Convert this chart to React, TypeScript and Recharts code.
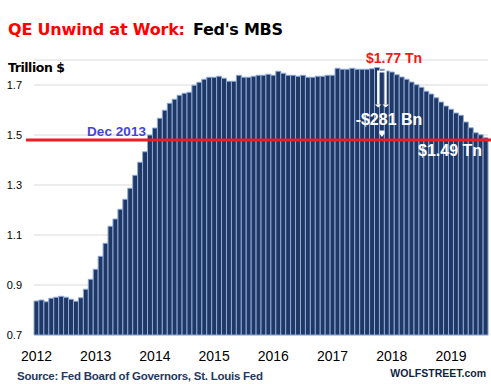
import React from "react";
import { BarChart, Bar, XAxis, YAxis, CartesianGrid, ReferenceLine, ReferenceDot } from "recharts";

// Fed's MBS holdings, trillion $, monthly Jan 2012 .. Aug 2019
const mbs2012 = [0.836, 0.840, 0.833, 0.847, 0.851, 0.855, 0.851, 0.843, 0.835, 0.849, 0.883, 0.923];
const mbs2013 = [0.963, 1.015, 1.067, 1.135, 1.164, 1.203, 1.243, 1.287, 1.339, 1.391, 1.433, 1.500];
const mbs2014 = [1.528, 1.567, 1.599, 1.627, 1.643, 1.659, 1.667, 1.671, 1.699, 1.711, 1.723, 1.731];
const mbs2015 = [1.731, 1.735, 1.727, 1.715, 1.715, 1.739, 1.731, 1.731, 1.735, 1.739, 1.739, 1.743];
const mbs2016 = [1.739, 1.755, 1.747, 1.739, 1.739, 1.735, 1.739, 1.731, 1.731, 1.735, 1.735, 1.739];
const mbs2017 = [1.739, 1.767, 1.763, 1.763, 1.767, 1.763, 1.763, 1.763, 1.765, 1.770, 1.763, 1.756];
const mbs2018 = [1.752, 1.741, 1.732, 1.723, 1.712, 1.701, 1.691, 1.675, 1.664, 1.649, 1.632, 1.616];
const mbs2019 = [1.603, 1.588, 1.579, 1.552, 1.529, 1.509, 1.501, 1.489];

const years = ["2012", "2013", "2014", "2015", "2016", "2017", "2018", "2019"];
const yTicks = [0.7, 0.9, 1.1, 1.3, 1.5, 1.7];
const dec2013Level = 1.48;
const peakMonth = "2017-11";

const series = [mbs2012, mbs2013, mbs2014, mbs2015, mbs2016, mbs2017, mbs2018, mbs2019];
const data: { month: string; value: number }[] = [];
series.forEach((vals, yi) => {
  vals.forEach((v, mi) => {
    data.push({ month: `${years[yi]}-${String(mi + 1).padStart(2, "0")}`, value: v });
  });
});
const yearTicks = years.map((y) => `${y}-01`);

const RedLine = (p: any) => (
  <line x1={p.x1 - 8} y1={p.y1} x2={p.x2 + 4} y2={p.y2} stroke="#ee1c24" strokeWidth={3} />
);

const Bracket = (p: any) => {
  const cx = p.cx;
  const cy = p.cy;
  const top = cy + 4;
  const bot = cy + 37;
  return (
    <g>
      <path
        d={`M${cx - 3.8},${bot} L${cx - 3.8},${top} L${cx + 3.8},${top} L${cx + 3.8},${bot}`}
        fill="none"
        stroke="#ffffff"
        strokeWidth={2}
      />
      <polygon points={`${cx - 7},${bot} ${cx - 0.6},${bot} ${cx - 3.8},${bot + 3}`} fill="#ffffff" />
      <polygon points={`${cx + 0.6},${bot} ${cx + 7},${bot} ${cx + 3.8},${bot + 3}`} fill="#ffffff" />
      <polygon points={`${cx - 2.5},${cy + 63} ${cx + 2.5},${cy + 63} ${cx + 2.5},${cy + 66} ${cx},${cy + 69.5} ${cx - 2.5},${cy + 66}`} fill="#ffffff" />
    </g>
  );
};

export default function App() {
  return (
    <div style={{ position: "absolute", left: 0, top: 0, width: 491, height: 384, background: "#ffffff" }}>
      <BarChart
        width={491}
        height={384}
        data={data}
        margin={{ top: 60, right: 3, left: 0, bottom: 19 }}
        barCategoryGap={0}
      >
        <CartesianGrid vertical={false} stroke="#d9d9d9" strokeWidth={1} />
        <XAxis
          dataKey="month"
          ticks={yearTicks}
          interval={0}
          tickFormatter={(m: string) => m.slice(0, 4)}
          axisLine={false}
          tickLine={false}
          tickSize={0}
          tickMargin={16}
          height={30}
          tick={{ fontSize: 14, fill: "#000000", fontFamily: "Liberation Sans" }}
        />
        <YAxis
          domain={[0.7, 1.8]}
          ticks={yTicks}
          width={34}
          axisLine={false}
          tickLine={false}
          tickSize={0}
          tickMargin={12}
          tickFormatter={(v: number) => v.toFixed(1)}
          tick={{ fontSize: 11, fill: "#000000", fontFamily: "Liberation Sans" }}
        />
        <Bar dataKey="value" fill="#1f3864" stroke="#8faadc" strokeWidth={1} isAnimationActive={false} />
        <ReferenceLine y={dec2013Level} shape={RedLine} />
        <ReferenceDot x={peakMonth} y={1.77} shape={Bracket} />
      </BarChart>
      <svg
        width={491}
        height={384}
        style={{ position: "absolute", left: 0, top: 0, pointerEvents: "none" }}
      >
        <text x={8} y={34.5} fontFamily="DejaVu Sans" fontWeight="bold" fontSize={16} fill="#ff0000" textLength={177}>
          QE Unwind at Work:
        </text>
        <text x={193} y={34.5} fontFamily="DejaVu Sans" fontWeight="bold" fontSize={16} fill="#000000" textLength={90}>
          Fed's MBS
        </text>
        <text x={8} y={72} fontFamily="DejaVu Sans" fontWeight="bold" fontSize={12.5} fill="#000000" textLength={57}>
          Trillion $
        </text>
        <text x={87} y={135.5} fontFamily="Liberation Sans" fontWeight="bold" fontSize={13.5} fill="#4444d8" textLength={59}>
          Dec 2013
        </text>
        <text x={394} y={63} textAnchor="middle" fontFamily="Liberation Sans" fontWeight="bold" fontSize={14} fill="#f21818">
          $1.77 Tn
        </text>
        <text x={389} y={124.5} textAnchor="middle" fontFamily="Liberation Sans" fontWeight="bold" fontSize={16} fill="#ffffff">
          -$281 Bn
        </text>
        <text x={450} y={156} textAnchor="middle" fontFamily="Liberation Sans" fontWeight="bold" fontSize={16} fill="#ffffff">
          $1.49 Tn
        </text>
        <text x={17} y={379.5} fontFamily="Liberation Sans" fontWeight="bold" fontSize={11.5} fill="#1f3864" textLength={246}>
          Source: Fed Board of Governors, St. Louis Fed
        </text>
        <text x={486} y={377} textAnchor="end" fontFamily="Liberation Sans" fontWeight="bold" fontSize={10.5} fill="#0f1f44">
          WOLFSTREET.com
        </text>
      </svg>
    </div>
  );
}
